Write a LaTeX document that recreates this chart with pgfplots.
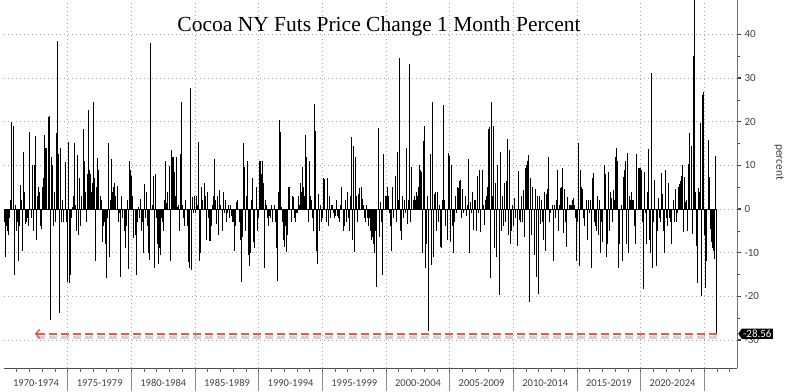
\documentclass[border=0pt]{standalone}
\usepackage{pgfplots}
\pgfplotsset{compat=1.18}
\usepackage{pgfplotstable}
\usepackage{fontspec}
\setmainfont{Carlito}
\newfontfamily\titlefont{Liberation Serif}
\usetikzlibrary{arrows.meta,shapes.symbols}
\definecolor{tickgray}{HTML}{404040}
\definecolor{gridgray}{HTML}{A8A8A8}
\definecolor{arrowred}{HTML}{F2544C}

\pgfplotstableread[row sep=\\]{
v\\
-3\\ -11\\ -4\\ -5\\ -6\\ -2\\ 2\\ 20\\ 19\\ -15\\
1\\ -5\\ -3\\ -12\\ -4\\ 5.6\\ 2\\ -9.5\\ 13\\ 4\\
-3.5\\ -3\\ -2\\ -4\\ 17.6\\ -2\\ 10\\ -5\\ 10\\ 16.6\\
-7\\ 3\\ 5\\ 4\\ -4\\ -4.5\\ 5\\ 7\\ 17\\ 14\\
14\\ 21\\ 21.4\\ -25.5\\ 12\\ 10\\ -4\\ 4\\ -3\\ 17.4\\
38.5\\ 12.6\\ -23.7\\ 14\\ -3\\ 2\\ -3\\ 10.8\\ -3\\ -16.8\\
15.4\\ -17\\ -15.2\\ -2\\ 0.5\\ 3\\ 15\\ 1\\ -5\\ 12.4\\
-6\\ 7\\ -4\\ 3\\ 18.3\\ 11\\ 4\\ -3\\ 8\\ 22.6\\
9\\ 8\\ 4\\ 6\\ 24.6\\ 7\\ -11.9\\ 5\\ 11.7\\ 9\\
3\\ 2\\ -7.6\\ -4\\ -3\\ -8\\ -15.8\\ -2\\ 15.2\\ -10.9\\
2\\ 11.5\\ 4\\ 5\\ 6\\ 3\\ 5.3\\ -3\\ -1\\ -15.6\\
3\\ -2\\ 0\\ -5\\ -9\\ -4\\ 2\\ -13.8\\ 11\\ 9\\
7.5\\ 3\\ -6.6\\ -6\\ -15\\ -3\\ 0.5\\ -2\\ 2.3\\ -5\\
-3\\ -10\\ 5.8\\ -2\\ 4\\ -4\\ -10\\ -11.6\\ 38\\ 1\\
7.5\\ -13.6\\ 7.9\\ -2\\ -8\\ -12.7\\ -9\\ -10.5\\ -2\\ -3\\
-5\\ 2\\ 10.9\\ 1.3\\ 4\\ 9.8\\ -12\\ 13.6\\ 12\\ 11.9\\
8.4\\ 3\\ 11.9\\ 0.5\\ 1\\ -5\\ 12.5\\ 24.4\\ 1\\ -2\\
-4\\ 2\\ -4\\ -12.2\\ -13.6\\ 27.6\\ -14\\ 2.7\\ -1\\ 3\\
-1\\ 3\\ 1\\ 15.3\\ -11.9\\ -10\\ 5\\ 2\\ 6\\ 3\\
-7\\ 4\\ -2\\ -7.3\\ -7.3\\ -4\\ 1\\ 3\\ 11.4\\ 2\\
-3.5\\ 3\\ -6\\ 4.4\\ 1\\ -5\\ 4\\ -1\\ 2\\ -3\\
-1\\ 1\\ -2\\ 1\\ -1.5\\ -3\\ -3\\ -9.5\\ -4\\ 1.7\\
2\\ -3\\ -7\\ -16.7\\ -6.5\\ 15\\ 9.6\\ -5\\ 3\\ 11\\
-10.6\\ -13\\ -10\\ 2\\ 7.2\\ -7.6\\ -9\\ 5\\ -5\\ -2\\
11\\ 11\\ 8\\ 11\\ 6\\ -13.5\\ 2\\ 1\\ -2\\ -4\\
-1.5\\ -2\\ 1\\ -3\\ 1\\ -3\\ -9\\ -16.4\\ 4\\ 20.4\\
17.6\\ 0.4\\ -3\\ -7\\ -8.6\\ -4\\ -9.8\\ -6\\ 5\\ 5\\
-3\\ 3\\ 2.7\\ -2\\ -3\\ -1\\ -1\\ 3\\ 1\\ 6\\
4\\ 9.6\\ 5\\ 3\\ 17\\ 12\\ -3\\ 11\\ 3\\ 2\\
-2\\ -5\\ 24\\ 17.8\\ -9.5\\ -12.5\\ 3.5\\ -5\\ 1\\ -3\\
-2\\ 7\\ 6.9\\ -3\\ 7\\ -4\\ 3\\ -2\\ 1\\ 1\\
-1\\ -2\\ -1.5\\ 2\\ -1.5\\ -2\\ -3\\ 1\\ 5\\ -5\\
-4\\ 2\\ -3\\ 4\\ -2\\ -5\\ 3\\ 16.5\\ -7\\ 14.5\\
-9.8\\ 11.8\\ 3\\ -3\\ 3.5\\ 4.8\\ 5\\ 2.3\\ 1\\ -2\\
-3\\ 1\\ -2\\ -4\\ -2\\ -5\\ -7\\ -6.5\\ -8\\ -10\\
-5\\ -17.9\\ 18.6\\ -6.5\\ 1.5\\ -3\\ -15\\ 12.6\\ 0\\ 3\\
3\\ 5\\ 3\\ -1\\ -4\\ -9.7\\ 5\\ -2\\ 7.5\\ -3\\
13\\ 2\\ 34.5\\ -5\\ -7\\ 3\\ -2\\ 2\\ -1\\ 14\\
-3.5\\ 2\\ 33.3\\ -3\\ 9.6\\ 2\\ 3\\ 2\\ 4\\ 3\\
5\\ 10\\ 9\\ 8.4\\ -10\\ 15.6\\ 19\\ -13.6\\ -8\\ 3\\
-28\\ 12.6\\ -12.9\\ 24.6\\ -11\\ 3.5\\ 4\\ -5\\ 4\\ -3\\
1\\ -8.8\\ -9\\ 2\\ 23.7\\ 2\\ -4\\ -7\\ 12.8\\ 12.2\\
-7.6\\ 10\\ -4\\ -10\\ -3\\ 3\\ -1\\ 5\\ 4.7\\ 6.5\\
6.6\\ -2\\ 4.5\\ -1\\ 3\\ -1.5\\ 1\\ 11.4\\ -10\\ 1.5\\
-1\\ 4\\ -4.7\\ 2\\ 2\\ -5\\ 7.6\\ -1\\ 9\\ -5.3\\
9\\ 1\\ -3.7\\ 2\\ 3\\ 5\\ 18.3\\ 18.8\\ -15.7\\ 24.5\\
3\\ 19\\ -9\\ 6\\ -11\\ 10\\ -19.8\\ 13\\ -5\\ 3\\
-4\\ 6\\ -3\\ 6.4\\ 16\\ -6\\ 13.5\\ -8\\ -5\\ 1\\
-4\\ 2.5\\ -2\\ -8.4\\ 8.6\\ -2.5\\ -3\\ 3\\ -3\\ 4.4\\
-6.5\\ 9.3\\ 10\\ 11\\ 12.4\\ -21.4\\ 7\\ -6\\ 5\\ -10.6\\
4.5\\ -15.6\\ 3\\ -19.5\\ 3\\ -3.5\\ 2\\ -3\\ -7\\ 4\\
-9.7\\ 3.5\\ 4.5\\ 11.8\\ -3\\ -1\\ 1\\ -11.9\\ 1\\ -2\\
2\\ 9\\ -5\\ 1\\ 4.7\\ 5\\ 9.3\\ -5.5\\ 4.5\\ -3\\
-8.8\\ 2.7\\ 1\\ 1\\ 1\\ 2\\ 2.5\\ 1\\ -2\\ -12\\
-3\\ 15\\ -13\\ 9\\ 5\\ 4.5\\ -2\\ -4\\ 2\\ -7\\
2\\ -1\\ 2\\ -13.6\\ 7\\ 8.3\\ -3\\ -4\\ -5\\ 3\\
-6\\ 2\\ -10\\ -3\\ -7.6\\ 10\\ 8\\ -11\\ -8\\ 8.4\\
-5\\ 4\\ 2.5\\ -3\\ 4.4\\ 2\\ 12\\ 14\\ 11\\ -13.6\\
-8\\ 1\\ -12\\ 7.3\\ 9\\ 11\\ -8\\ 12.8\\ -10\\ 3\\
2\\ 3.8\\ 2\\ 2\\ -4\\ -8\\ 12.7\\ 9.3\\ 9.3\\ 9.5\\
9\\ -3\\ -18.3\\ 8.5\\ -1\\ -8\\ 4\\ 13.7\\ -7\\ -10\\
31.2\\ -13.6\\ -3\\ 6.6\\ -13\\ -5\\ 2.6\\ -2\\ -3\\ 8.3\\
3.4\\ -5\\ -10\\ 8.9\\ -2\\ -4\\ 6\\ -2\\ -3\\ -8\\
2\\ -3\\ 4.6\\ -3\\ -1\\ 5\\ 5.7\\ 6.3\\ 7.5\\ 10\\
-5.3\\ 7.3\\ 1.5\\ 2\\ -5\\ 10.3\\ 17.4\\ 14.5\\ -5.7\\ 35\\
55\\ 3.8\\ -8.4\\ -17\\ 4.7\\ 4\\ 19.7\\ -20\\ 26\\ 26.8\\
-6\\ -18\\ -12\\ 15.7\\ 7.3\\ -4.5\\ -7.5\\ -9\\ -9.5\\ -11.5\\
12.2\\ -28.56\\
}\cocoa

\begin{document}
\begin{tikzpicture}[x=1pt,y=1pt]
\useasboundingbox (0,0) rectangle (800,391);
\begin{axis}[
  at={(4pt,23pt)}, anchor=south west,
  width=733pt, height=368pt, scale only axis,
  xmin=0, xmax=690.8, ymin=-36.4, ymax=47.85,
  clip mode=individual,
  axis x line*=bottom, axis y line*=right,
  x axis line style={-, draw=black!70, line width=0.8pt},
  y axis line style={-, draw=black!55, line width=0.6pt},
  tick align=outside,
  xtick=\empty,
  ytick={-30,-20,...,40},
  minor y tick num=1,
  major tick length=4pt, minor tick length=3pt,
  ytick style={draw=black!75},
  major tick style={line width=1.4pt},
  minor tick style={line width=0.5pt},
  yticklabel style={font=\fontsize{11}{12}\selectfont, text=tickgray},
  /pgf/number format/assume math mode=true,
  ymajorgrids,
  major grid style={gridgray, line width=0.7pt, dash pattern=on 0.8pt off 3.2pt},
  every axis y label/.style={at={(axis description cs:1.0573,0.5598)}, rotate=-90, anchor=center, font=\fontsize{11.5}{12}\selectfont, text=tickgray},
  ylabel={percent},
]
\pgfplotsinvokeforeach{60,120,...,660}{
  \draw[gridgray, line width=0.7pt, dash pattern=on 0.8pt off 3.2pt] (axis cs:#1,-36.4) -- (axis cs:#1,47.85);
  \draw[black!45, line width=0.7pt] (axis cs:#1,-36.4) -- ++(0pt,-23pt);
}
\pgfplotsinvokeforeach{12,24,...,684}{
  \draw[black!60, line width=0.6pt] (axis cs:#1,-36.4) -- ++(0pt,-4pt);
}
\addplot[ycomb, black, line width=1pt, mark=none] table[x expr=\coordindex+0.5, y=v] {\cocoa};
\addplot[black, line width=0.8pt, mark=none] coordinates {(0,0) (672,0)};
\draw[black!18, line width=3pt, dash pattern=on 8pt off 4pt, yshift=-3.5pt] (axis cs:671.5,-28.56) -- (axis cs:30,-28.56);
\draw[arrowred, line width=2.2pt, dash pattern=on 8pt off 4pt, -{Straight Barb[length=4pt,width=9pt,line width=1.4pt]}] (axis cs:671.5,-28.56) -- (axis cs:29,-28.56);
\coordinate (tagpt) at (axis cs:690.8,-28.56);
\coordinate (lab0) at (axis cs:30,-36.4);
\end{axis}
\begin{scope}[every node/.style={font=\fontsize{10.5}{11}\selectfont, text=tickgray, anchor=base}]
\node at (36.0,5) {1970-1974};
\node at (99.7,5) {1975-1979};
\node at (163.3,5) {1980-1984};
\node at (227.0,5) {1985-1989};
\node at (290.6,5) {1990-1994};
\node at (354.3,5) {1995-1999};
\node at (418.0,5) {2000-2004};
\node at (481.6,5) {2005-2009};
\node at (545.3,5) {2010-2014};
\node at (608.9,5) {2015-2019};
\node at (672.6,5) {2020-2024};
\end{scope}
\node[font=\titlefont\fontsize{21.5}{24}\selectfont, anchor=base] at (379,359) {Cocoa NY Futs Price Change 1 Month Percent};
\node[signal, signal to=west, signal pointer angle=110, fill=black, text=white, font=\fontsize{11}{11}\selectfont, inner sep=1.3pt, anchor=west] at ([xshift=1pt]tagpt) {-28.56};
\end{tikzpicture}
\end{document}
